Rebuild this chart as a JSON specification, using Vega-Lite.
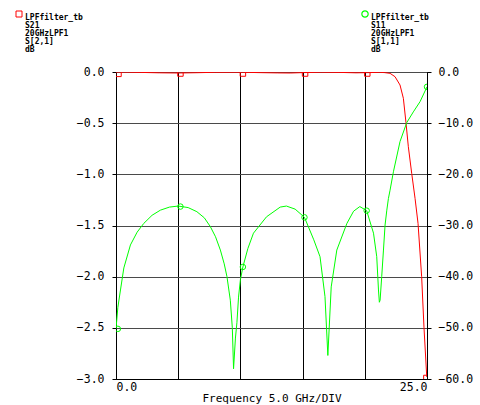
{
  "$schema": "https://vega.github.io/schema/vega-lite/v6.json",
  "width": 311,
  "height": 307,
  "autosize": {"type": "none"},
  "padding": {"left": 116, "top": 72, "right": 53, "bottom": 26},
  "background": "white",
  "datasets": {
    "s21": [
      {"f": 0, "v": 0}, {"f": 1, "v": -0.002}, {"f": 2, "v": -0.004}, {"f": 3.5, "v": -0.008},
      {"f": 5, "v": -0.01}, {"f": 6.5, "v": -0.007}, {"f": 8, "v": -0.003}, {"f": 10, "v": -0.002},
      {"f": 11.5, "v": -0.006}, {"f": 13, "v": -0.009}, {"f": 14, "v": -0.01}, {"f": 15, "v": -0.006},
      {"f": 16.5, "v": -0.002}, {"f": 18, "v": -0.004}, {"f": 19.3, "v": -0.008}, {"f": 20.3, "v": -0.006},
      {"f": 21.2, "v": -0.003}, {"f": 21.6, "v": -0.006}, {"f": 22.03, "v": -0.013}, {"f": 22.43, "v": -0.046},
      {"f": 22.83, "v": -0.127}, {"f": 23.1, "v": -0.257}, {"f": 23.31, "v": -0.495}, {"f": 23.5, "v": -0.73},
      {"f": 23.77, "v": -0.99}, {"f": 24.04, "v": -1.235}, {"f": 24.28, "v": -1.48}, {"f": 24.57, "v": -2.0},
      {"f": 24.76, "v": -2.5}, {"f": 24.98, "v": -2.98}
    ],
    "s21m": [
      {"f": 0.2, "v": -0.018}, {"f": 5.18, "v": -0.015}, {"f": 10.2, "v": -0.015},
      {"f": 15.2, "v": -0.015}, {"f": 20.2, "v": -0.015}, {"f": 24.95, "v": -2.99}
    ],
    "s11": [
      {"f": 0, "v": -50.2}, {"f": 0.15, "v": -46}, {"f": 0.36, "v": -42.6}, {"f": 0.63, "v": -38.3},
      {"f": 1.16, "v": -33.8}, {"f": 1.7, "v": -31.3}, {"f": 2.23, "v": -29.6}, {"f": 2.9, "v": -28.0},
      {"f": 3.57, "v": -27.0}, {"f": 4.3, "v": -26.4}, {"f": 5.0, "v": -26.2}, {"f": 5.8, "v": -26.5},
      {"f": 6.5, "v": -27.3}, {"f": 7.1, "v": -28.5}, {"f": 7.58, "v": -30.2}, {"f": 8.0, "v": -32.2},
      {"f": 8.39, "v": -34.8}, {"f": 8.7, "v": -37.5}, {"f": 8.92, "v": -40.0}, {"f": 9.19, "v": -44.6},
      {"f": 9.35, "v": -50.0}, {"f": 9.45, "v": -58.0}, {"f": 9.6, "v": -52.0}, {"f": 9.72, "v": -49.0},
      {"f": 9.85, "v": -44.0}, {"f": 10.0, "v": -40.6}, {"f": 10.2, "v": -38.1}, {"f": 10.6, "v": -34.5},
      {"f": 11.05, "v": -31.5}, {"f": 12.1, "v": -28.3}, {"f": 13.2, "v": -26.4}, {"f": 13.7, "v": -26.2},
      {"f": 14.4, "v": -26.8}, {"f": 15.15, "v": -28.4}, {"f": 15.9, "v": -32.8}, {"f": 16.4, "v": -36.1},
      {"f": 16.8, "v": -43.9}, {"f": 17.03, "v": -55.4}, {"f": 17.3, "v": -42.0}, {"f": 17.75, "v": -34.8},
      {"f": 18.56, "v": -29.6}, {"f": 19.1, "v": -27.2}, {"f": 19.6, "v": -26.3}, {"f": 20.15, "v": -27.1},
      {"f": 20.7, "v": -31.5}, {"f": 20.96, "v": -36.1}, {"f": 21.1, "v": -42.6}, {"f": 21.17, "v": -45.0},
      {"f": 21.23, "v": -44.6}, {"f": 21.36, "v": -40.0}, {"f": 21.5, "v": -34.8}, {"f": 21.63, "v": -29.9},
      {"f": 21.77, "v": -27.0}, {"f": 21.9, "v": -24.7}, {"f": 22.03, "v": -23.1}, {"f": 22.3, "v": -19.5},
      {"f": 22.83, "v": -13.6}, {"f": 23.37, "v": -9.9}, {"f": 23.9, "v": -7.8}, {"f": 24.44, "v": -5.8},
      {"f": 25.0, "v": -2.9}
    ],
    "s11m": [
      {"f": 0.15, "v": -50.2}, {"f": 5.18, "v": -26.3}, {"f": 10.2, "v": -38.1},
      {"f": 15.15, "v": -28.4}, {"f": 20.15, "v": -27.1}, {"f": 25.0, "v": -2.9}
    ]
  },
  "layer": [
    {
      "layer": [
        {
          "data": {"name": "s21"},
          "mark": {"type": "line", "color": "#ff0000", "strokeWidth": 1, "clip": true},
          "encoding": {
            "x": {
              "field": "f", "type": "quantitative",
              "scale": {"domain": [0, 25], "nice": false, "zero": false},
              "axis": {
                "values": [0, 5, 10, 15, 20, 25],
                "labelExpr": "datum.value == 0 || datum.value == 25 ? format(datum.value, '.1f') : ''",
                "labelFlush": true,
                "ticks": false,
                "grid": true, "gridColor": "black", "gridWidth": 1, "gridOpacity": 1,
                "labelPadding": 2,
                "title": "Frequency 5.0 GHz/DIV",
                "titlePadding": 0
              }
            },
            "y": {
              "field": "v", "type": "quantitative",
              "scale": {"domain": [-3, 0], "nice": false, "zero": false},
              "axis": {
                "orient": "left",
                "values": [-3, -2.5, -2, -1.5, -1, -0.5, 0],
                "format": ".1f",
                "grid": true, "gridColor": "#4a4a4a", "gridWidth": 1, "gridOpacity": 1,
                "tickSize": 4, "labelPadding": 8, "title": null
              }
            }
          }
        },
        {
          "data": {"name": "s21m"},
          "mark": {"type": "point", "shape": "square", "filled": false, "size": 30, "strokeWidth": 1, "opacity": 1, "clip": true},
          "encoding": {
            "x": {"field": "f", "type": "quantitative"},
            "y": {"field": "v", "type": "quantitative"},
            "color": {
              "datum": "S21",
              "scale": {"range": ["#ff0000"]},
              "legend": {
                "orient": "none", "legendX": -101, "legendY": -62,
                "title": null, "padding": 0,
                "symbolType": "square", "symbolSize": 36, "symbolStrokeWidth": 1, "symbolFillColor": "transparent",
                "labelExpr": "['LPFfilter_tb','S21','20GHzLPF1','S[2,1]','dB']",
                "labelBaseline": "top", "labelOffset": 2
              }
            }
          }
        }
      ]
    },
    {
      "layer": [
        {
          "data": {"name": "s11"},
          "mark": {"type": "line", "color": "#00ff00", "strokeWidth": 1, "clip": true},
          "encoding": {
            "x": {"field": "f", "type": "quantitative"},
            "y": {
              "field": "v", "type": "quantitative",
              "scale": {"domain": [-60, 0], "nice": false, "zero": false},
              "axis": {
                "orient": "right",
                "values": [-60, -50, -40, -30, -20, -10, 0],
                "format": ".1f",
                "grid": false,
                "tickSize": 4, "labelPadding": 7, "title": null
              }
            }
          }
        },
        {
          "data": {"name": "s11m"},
          "mark": {"type": "point", "shape": "circle", "filled": false, "size": 30, "strokeWidth": 1, "opacity": 1, "clip": true},
          "encoding": {
            "x": {"field": "f", "type": "quantitative"},
            "y": {"field": "v", "type": "quantitative"},
            "color": {
              "datum": "S11",
              "scale": {"range": ["#00ff00"]},
              "legend": {
                "orient": "none", "legendX": 245, "legendY": -62,
                "title": null, "padding": 0,
                "symbolType": "circle", "symbolSize": 40, "symbolStrokeWidth": 1.2, "symbolFillColor": "transparent",
                "labelExpr": "['LPFfilter_tb','S11','20GHzLPF1','S[1,1]','dB']",
                "labelBaseline": "top", "labelOffset": 2
              }
            }
          }
        }
      ]
    }
  ],
  "resolve": {
    "scale": {"y": "independent", "color": "independent"},
    "legend": {"color": "independent"}
  },
  "config": {
    "view": {"stroke": "black", "strokeWidth": 1},
    "axis": {
      "labelFont": "DejaVu Sans Mono", "labelFontSize": 11.5, "labelColor": "black",
      "titleFont": "DejaVu Sans Mono", "titleFontSize": 11, "titleFontWeight": "normal", "titleColor": "black",
      "domainColor": "black", "tickColor": "black", "domainWidth": 1
    },
    "legend": {
      "labelFont": "DejaVu Sans Mono", "labelFontSize": 8, "labelFontWeight": "bold", "labelColor": "black",
      "labelLimit": 200
    },
    "style": {"guide-label": {"lineHeight": 8}}
  }
}
